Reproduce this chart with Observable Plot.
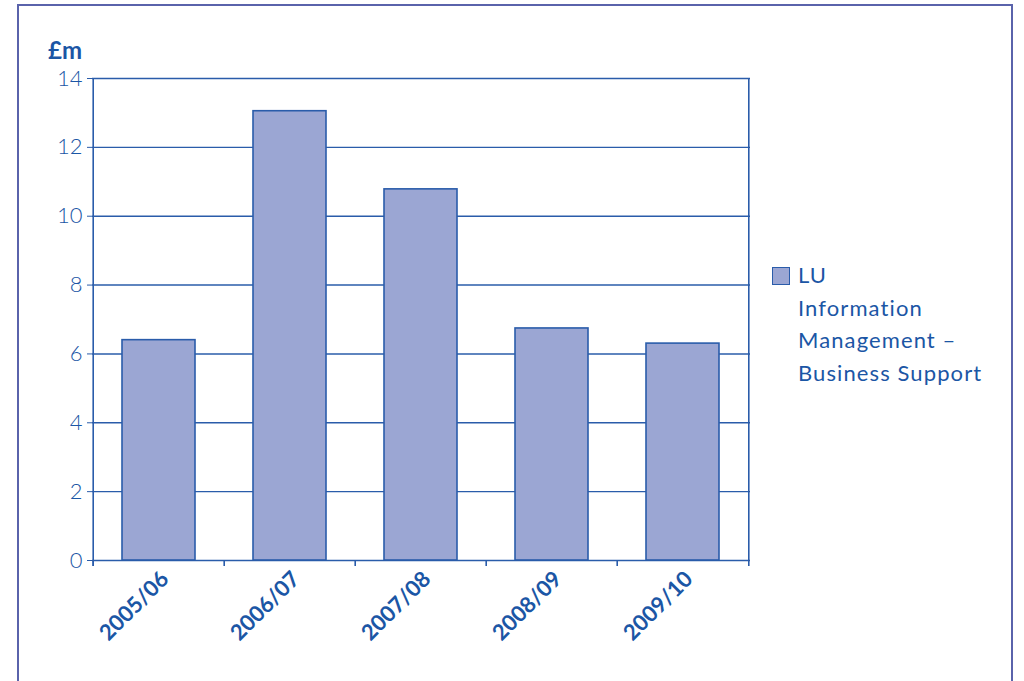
<!DOCTYPE html>
<html><head><meta charset="utf-8">
<script src="https://cdn.jsdelivr.net/npm/d3@7"></script>
<script src="https://cdn.jsdelivr.net/npm/@observablehq/plot@0.6"></script>
<style>
body{margin:0;background:#fff;font-family:Lato,"Open Sans",sans-serif;}
#wrap{position:relative;width:1024px;height:681px;overflow:hidden;}
#frame{position:absolute;left:17px;top:4px;width:996px;height:720px;border:2px solid #5a63ab;box-sizing:border-box;}
#unit{position:absolute;left:48px;top:41px;font-weight:bold;font-size:24px;line-height:18px;color:#1b56a5;}
#chart{position:absolute;left:0;top:0;}
#legend{position:absolute;left:772px;top:259px;color:#1b56a5;font-size:22px;line-height:32.5px;letter-spacing:1.1px;}
#legend .sw{position:absolute;left:0;top:8px;width:16px;height:16px;background:#9ba6d3;border:1.5px solid #2a5caa;}
#legend .tx{position:absolute;left:26px;top:0;white-space:nowrap;}
</style>
</head><body>
<div id="wrap">
  <div id="frame"></div>
  <div id="chart"></div>
  <div id="unit"></div>
  <div id="legend"></div>
</div>
<script>
const years = ["2005/06","2006/07","2007/08","2008/09","2009/10"];
const values = [6.4, 13.05, 10.78, 6.74, 6.3];
const yTicks = [0,2,4,6,8,10,12,14];
const unitLabel = "£m";
const seriesLines = ["LU","Information","Management –","Business Support"];

const blue = "#2a5caa";
const textBlue = "#1b56a5";
const data = years.map((y,i)=>({year:y, value:values[i]}));
const W=1024,H=681,mL=92,mR=274,mT=78,mB=121;
const step=(W-mL-mR)/years.length;

const chart = Plot.plot({
  width:W,height:H,marginLeft:mL,marginRight:mR,marginTop:mT,marginBottom:mB,
  style:{background:"transparent",color:textBlue,fontFamily:"Lato, 'Open Sans', sans-serif",overflow:"visible"},
  x:{domain:years,paddingInner:0.44,paddingOuter:0.22,label:null},
  y:{domain:[0,14],label:null},
  marks:[
    Plot.ruleY(yTicks,{y:d=>d,stroke:blue,strokeWidth:1.4}),
    Plot.barY(data,{x:"year",y:"value",fill:"#9ba6d3",stroke:blue,strokeWidth:1.6}),
    Plot.ruleX(years,{x:d=>d,y1:()=>0,y2:()=>0,dx:-step/2,insetBottom:-6,stroke:blue,strokeWidth:1.6}),
    Plot.ruleX([years[0]],{x:d=>d,y1:()=>14,y2:()=>0,dx:-step/2,insetBottom:-6,stroke:blue,strokeWidth:1.6}),
    Plot.ruleX([years[years.length-1]],{x:d=>d,y1:()=>14,y2:()=>0,dx:step/2,insetBottom:-6,stroke:blue,strokeWidth:1.6}),
    Plot.axisY(yTicks,{tickSize:5,tickPadding:5,fontSize:22,fontWeight:300,stroke:blue,fill:textBlue,label:null}),
    Plot.axisX({tickSize:0,tickRotate:-45,tickPadding:15,dx:6,fontSize:22,fontWeight:"bold",fill:textBlue,label:null,
      style:{letterSpacing:"0.8px"}})
  ]
});
document.getElementById("chart").appendChild(chart);
document.getElementById("unit").textContent = unitLabel;
const lg = document.getElementById("legend");
lg.innerHTML = '<div class="sw"></div><div class="tx">'+seriesLines.join("<br>")+'</div>';
</script>
</body></html>
